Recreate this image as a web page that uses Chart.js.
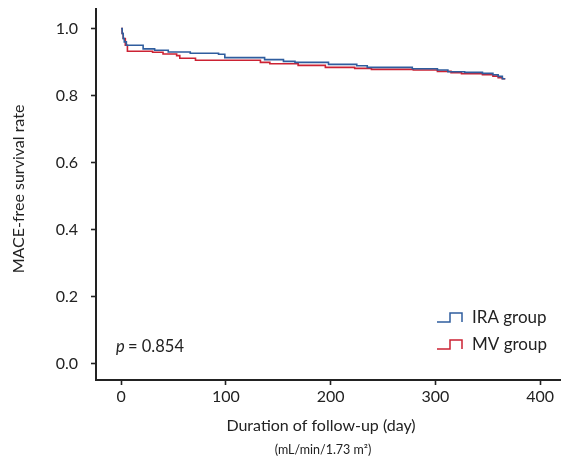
<!DOCTYPE html>
<html lang="en">
<head>
  <meta charset="UTF-8">
  <title>MACE-free survival</title>
  <script src="https://cdn.jsdelivr.net/npm/chart.js@4.4.1/dist/chart.umd.min.js"></script>
  <style>
    html, body { margin: 0; padding: 0; background: #fff; }
    #wrap { width: 561px; height: 459px; }
  </style>
</head>
<body>
  <div id="wrap"><canvas id="km"></canvas></div>
<script>
  // Kaplan-Meier steps (day, survival)
  const iraDays = [0, 1, 2, 3, 5, 21, 32, 45, 66, 93, 99, 137, 155, 166, 198, 225, 235, 278, 302, 312, 328, 345, 355, 360, 364, 366];
  const iraSurv = [1.0, 0.985, 0.97, 0.96, 0.950, 0.939, 0.935, 0.930, 0.926, 0.923, 0.913, 0.907, 0.902, 0.899, 0.893, 0.889, 0.884, 0.880, 0.876, 0.871, 0.869, 0.866, 0.862, 0.857, 0.850, 0.848];
  const mvDays = [0, 1, 2, 4, 6, 30, 40, 53, 56, 71, 133, 142, 169, 195, 223, 239, 279, 302, 315, 325, 345, 355, 360, 364, 366];
  const mvSurv = [1.0, 0.985, 0.97, 0.95, 0.932, 0.929, 0.924, 0.919, 0.911, 0.905, 0.899, 0.895, 0.890, 0.884, 0.881, 0.878, 0.876, 0.872, 0.868, 0.865, 0.862, 0.858, 0.853, 0.850, 0.848];
  const groupNames = ['IRA group', 'MV group'];
  const xTicks = [0, 100, 200, 300, 400];
  const yTicks = [0.0, 0.2, 0.4, 0.6, 0.8, 1.0];
  const pText = '= 0.854';

  const BLUE = '#2f5d9e';
  const RED = '#cc2233';
  const INK = '#222';
  const FONT = 'Lato, "Open Sans", sans-serif';

  function pts(xs, ys) {
    return xs.map((d, i) => ({ x: d, y: ys[i] }));
  }

  const extras = {
    id: 'extras',
    afterDraw(chart) {
      const ctx = chart.ctx;
      ctx.save();
      ctx.fillStyle = INK;
      ctx.textBaseline = 'middle';

      // axis titles
      ctx.textAlign = 'center';
      ctx.font = '16px ' + FONT;
      ctx.fillText('Duration of follow-up (day)', 321, 426);
      ctx.font = '12.5px ' + FONT;
      ctx.fillText('(mL/min/1.73 m\u00B2)', 323, 450);
      ctx.font = '16px ' + FONT;
      ctx.translate(19, 189);
      ctx.rotate(-Math.PI / 2);
      ctx.fillText('MACE-free survival rate', 0, 0);
      ctx.setTransform(1, 0, 0, 1, 0, 0);

      // p value
      ctx.textAlign = 'left';
      ctx.font = 'italic 16.5px ' + FONT;
      ctx.fillText('p', 116, 347);
      ctx.font = '16.5px ' + FONT;
      ctx.fillText(pText, 128, 347);

      // legend with step icons
      const rows = [[BLUE, 318], [RED, 345]];
      rows.forEach(([col, cy], i) => {
        ctx.strokeStyle = col;
        ctx.lineWidth = 1.5;
        ctx.beginPath();
        ctx.moveTo(437, cy + 4);
        ctx.lineTo(450, cy + 4);
        ctx.lineTo(450, cy - 5);
        ctx.lineTo(462, cy - 5);
        ctx.lineTo(462, cy + 4);
        ctx.stroke();
        ctx.fillStyle = INK;
        ctx.font = '17px ' + FONT;
        ctx.fillText(groupNames[i], 472, cy);
      });
      ctx.restore();
    }
  };

  new Chart(document.getElementById('km'), {
    type: 'line',
    data: {
      datasets: [
        { label: groupNames[0], data: pts(iraDays, iraSurv), borderColor: BLUE, borderWidth: 1.6, stepped: true, pointRadius: 0, fill: false },
        { label: groupNames[1], data: pts(mvDays, mvSurv), borderColor: RED, borderWidth: 1.6, stepped: true, pointRadius: 0, fill: false }
      ]
    },
    options: {
      responsive: true,
      maintainAspectRatio: false,
      animation: false,
      layout: { padding: { top: 9, right: 0, left: 0, bottom: 0 } },
      plugins: { legend: { display: false }, tooltip: { enabled: false } },
      scales: {
        x: {
          type: 'linear',
          min: -24,
          max: 420,
          afterBuildTicks: s => { s.ticks = xTicks.map(v => ({ value: v })); },
          afterFit: s => { s.height = 79; s.paddingLeft = 0; s.paddingRight = 0; },
          grid: { drawOnChartArea: false, tickLength: 5, tickWidth: 1.6, tickColor: INK },
          border: { color: INK, width: 2 },
          ticks: { color: INK, font: { family: FONT, size: 16 }, padding: 2, maxRotation: 0 }
        },
        y: {
          min: -0.048,
          max: 1.058,
          afterBuildTicks: s => { s.ticks = yTicks.map(v => ({ value: v })); },
          afterFit: s => { s.width = 96; s.paddingTop = 0; s.paddingBottom = 0; },
          grid: { drawOnChartArea: false, tickLength: 5, tickWidth: 1.6, tickColor: INK },
          border: { color: INK, width: 2 },
          ticks: { color: INK, font: { family: FONT, size: 16 }, padding: 13, callback: v => v.toFixed(1) }
        }
      }
    },
    plugins: [extras]
  });
</script>
</body>
</html>
